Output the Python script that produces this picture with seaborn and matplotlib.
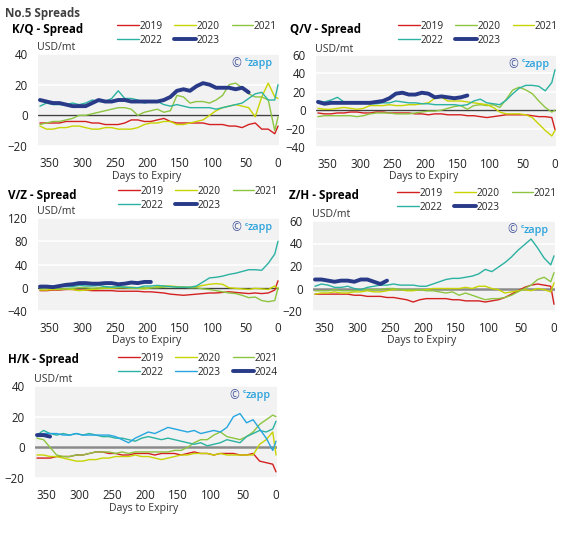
import numpy as np
import pandas as pd
import matplotlib
matplotlib.use('Agg')
import matplotlib.pyplot as plt
import seaborn as sns

# jours avant expiration (pas de 10 jours)
DAYS = [365, 355, 345, 335, 325, 315, 305, 295, 285, 275,
        265, 255, 245, 235, 225, 215, 205, 195, 185, 175,
        165, 155, 145, 135, 125, 115, 105, 95, 85, 75,
        65, 55, 45, 35, 25, 15, 5, 0]

# K/Q
KQ_2019 = [-5, -5, -5, -5, -4, -4, -4, -4, -5, -5, -6, -6, -6, -5, -3, -3, -4, -4, -3, -2,
           -4, -5, -5, -5, -5, -5, -6, -6, -6, -7, -7, -8, -6, -5, -9, -9, -12, -7]
KQ_2020 = [-7, -9, -9, -8, -8, -7, -7, -8, -9, -9, -8, -8, -9, -9, -9, -8, -6, -5, -5, -4,
           -4, -6, -6, -5, -4, -3, 0, 3, 5, 6, 7, 6, 5, -1, 12, 21, 12, 11]
KQ_2021 = [-6, -5, -4, -4, -3, -2, 0, 0, 1, 2, 3, 4, 5, 5, 4, 0, 2, 3, 4, 2,
           3, 13, 12, 8, 9, 9, 8, 10, 13, 20, 21, 18, 14, 12, 12, 10, -10, -1]
KQ_2022 = [6, 8, 7, 7, 7, 8, 7, 8, 10, 9, 9, 11, 16, 11, 11, 10, 8, 9, 9, 7,
           6, 7, 6, 5, 5, 5, 5, 4, 5, 6, 7, 8, 11, 14, 15, 10, 10, 20]
KQ_2023 = [10, 9, 8, 8, 7, 6, 6, 6, 8, 10, 9, 9, 10, 10, 9, 9, 9, 9, 9, 10,
           12, 16, 17, 16, 19, 21, 20, 18, 18, 18, 17, 18, 15]

# Q/V
QV_2019 = [-3, -4, -4, -3, -3, -2, -2, -3, -3, -2, -2, -3, -3, -3, -3, -4, -4, -5, -4, -4,
           -5, -5, -5, -6, -6, -7, -8, -7, -6, -5, -5, -5, -5, -6, -7, -7, -8, -21]
QV_2020 = [-7, -6, -6, -6, -6, -6, -7, -6, -4, -3, -3, -3, -4, -4, -4, -3, -2, -1, -1, 0,
           2, 4, 5, 1, 5, 6, 5, 6, 3, 12, 22, 25, 22, 18, 10, 3, -2, 0]
QV_2021 = [2, 1, 1, 2, 3, 2, 1, 2, 5, 5, 5, 6, 5, 5, 6, 6, 7, 8, 13, 14,
           10, 10, 10, 9, 8, 7, 6, 3, -2, -4, -4, -4, -5, -8, -15, -22, -28, -22]
QV_2022 = [10, 9, 11, 14, 9, 9, 8, 8, 7, 7, 8, 8, 10, 9, 8, 8, 7, 7, 6, 6,
           6, 6, 5, 6, 10, 12, 8, 7, 6, 11, 18, 24, 27, 27, 26, 21, 30, 44]
QV_2023 = [9, 7, 8, 8, 8, 8, 8, 8, 8, 9, 10, 13, 18, 19, 17, 17, 19, 18, 14, 15,
           14, 13, 14, 16]

# V/Z
VZ_2019 = [-5, -5, -4, -4, -3, -3, -4, -4, -5, -5, -5, -5, -6, -6, -6, -6, -7, -7, -8, -9,
           -11, -12, -13, -12, -11, -10, -9, -9, -8, -7, -8, -9, -10, -9, -10, -9, -4, 12]
VZ_2020 = [-4, -4, -3, -3, -2, -3, -5, -4, -3, -2, -1, -1, 0, 0, -1, -1, -2, 0, 2, 3,
           3, 2, 1, 1, 2, 4, 6, 7, 6, 0, -1, -2, -3, -1, -2, -3, 3, -2]
VZ_2021 = [-2, -1, -1, -2, -2, -1, 0, 0, -1, 0, 0, 1, 2, 1, 1, 0, 0, 0, 0, 1,
           2, 1, 1, 0, 0, -2, -3, -5, -7, -9, -10, -13, -17, -16, -22, -24, -22, 0]
VZ_2022 = [2, 2, 3, 3, 2, 2, 4, 3, 3, 4, 2, 1, 2, 1, 0, 0, 3, 3, 4, 3,
           2, 1, 1, 1, 3, 10, 17, 18, 20, 23, 25, 28, 31, 31, 30, 42, 58, 80]
VZ_2023 = [2, 2, 1, 3, 5, 6, 8, 8, 7, 7, 8, 8, 6, 7, 9, 8, 10, 10]

# Z/H
ZH_2019 = [-5, -5, -5, -5, -5, -5, -6, -6, -7, -7, -7, -8, -8, -9, -10, -12, -10, -9, -9, -9,
           -9, -10, -10, -11, -11, -11, -12, -11, -10, -8, -5, -2, 1, 3, 4, 3, 2, -14]
ZH_2020 = [-5, -4, -4, -3, -4, -4, -3, -3, -2, -3, -3, -2, -1, -1, -2, -2, -1, -1, 0, 0,
           0, 0, 0, 1, 0, 2, 2, 0, -1, -4, -3, -2, -1, -2, 0, -1, -3, 5]
ZH_2021 = [-2, -2, -2, -1, -2, -2, -2, -1, -1, -1, -1, 0, 0, -1, -1, -1, -1, -2, -2, -3,
           -4, -3, -6, -4, -6, -8, -10, -9, -9, -8, -6, -3, 0, 3, 8, 10, 6, 14]
ZH_2022 = [2, 4, 3, 1, 1, 2, 0, -1, 1, 2, 3, 3, 4, 3, 3, 3, 2, 2, 4, 6,
           8, 9, 9, 10, 11, 13, 17, 15, 19, 23, 28, 34, 39, 44, 36, 27, 21, 29]
ZH_2023 = [8, 8, 7, 6, 7, 7, 6, 8, 8, 6, 4, 7]

# H/K
HK_2019 = [-7, -7, -7, -6, -6, -6, -5, -5, -4, -3, -3, -4, -4, -5, -5, -4, -4, -4, -5, -4,
           -4, -4, -5, -4, -3, -4, -4, -5, -4, -4, -4, -5, -5, -4, -9, -10, -11, -16]
HK_2020 = [-5, -5, -6, -6, -7, -8, -9, -9, -8, -8, -7, -7, -6, -6, -6, -5, -6, -6, -7, -8,
           -7, -6, -5, -5, -4, -4, -4, -5, -4, -5, -5, -5, -5, -5, 2, 5, 10, -5]
HK_2021 = [6, 5, 0, -5, -6, -6, -5, -5, -4, -3, -3, -3, -4, -3, -4, -3, -3, -3, -3, -3,
           -3, -2, -2, 0, 3, 5, 5, 8, 10, 7, 6, 5, 7, 10, 15, 18, 21, 20]
HK_2022 = [8, 11, 9, 8, 9, 8, 9, 8, 9, 8, 7, 7, 6, 6, 5, 4, 6, 7, 6, 5,
           6, 5, 4, 3, 2, 3, 1, 2, 3, 5, 4, 3, 7, 9, 11, 10, 12, 17]
HK_2023 = [7, 9, 9, 9, 8, 8, 9, 8, 8, 8, 8, 8, 7, 5, 3, 6, 8, 10, 9, 11,
           13, 12, 11, 10, 11, 9, 10, 11, 10, 13, 20, 22, 16, 18, 12, 6, -2, 4]
HK_2024 = [8, 8, 7]

RED = '#d42020'
YEL = '#c8d400'
GRN = '#8dc540'
TEAL = '#2bb2a2'
NAVY = '#283a88'
BLUE = '#25a6e0'

W, H = 582, 551


def fx(x):
    return x / W


def fy(y):
    return 1 - y / H


# (titre, séries, ylim, yticks, rect px (g, h, d, b), zéro, légende px, titre px)
panneaux = [
    ('K/Q - Spread',
     [('2019', KQ_2019, RED, 1.0), ('2020', KQ_2020, YEL, 1.0), ('2021', KQ_2021, GRN, 1.0),
      ('2022', KQ_2022, TEAL, 1.0), ('2023', KQ_2023, NAVY, 2.8)],
     (-20, 40), [-20, 0, 20, 40], (38, 54, 279, 146), ('#404040', 1.0), (277, 46), (12, 30)),
    ('Q/V - Spread',
     [('2019', QV_2019, RED, 1.0), ('2020', QV_2020, GRN, 1.0), ('2021', QV_2021, YEL, 1.0),
      ('2022', QV_2022, TEAL, 1.0), ('2023', QV_2023, NAVY, 2.8)],
     (-40, 60), [-40, -20, 0, 20, 40, 60], (316, 55, 556, 147), ('#404040', 1.0), (558, 46), (290, 30)),
    ('V/Z - Spread',
     [('2019', VZ_2019, RED, 1.0), ('2020', VZ_2020, YEL, 1.0), ('2021', VZ_2021, GRN, 1.0),
      ('2022', VZ_2022, TEAL, 1.0), ('2023', VZ_2023, NAVY, 2.8)],
     (-40, 120), [-40, 0, 40, 80, 120], (38, 218, 279, 311), ('#404040', 1.0), (278, 211), (8, 195)),
    ('Z/H - Spread',
     [('2019', ZH_2019, RED, 1.0), ('2020', ZH_2020, YEL, 1.0), ('2021', ZH_2021, GRN, 1.0),
      ('2022', ZH_2022, TEAL, 1.0), ('2023', ZH_2023, NAVY, 2.8)],
     (-20, 60), [-20, 0, 20, 40, 60], (313, 221, 555, 311), ('#8a8a8a', 1.8), (557, 213), (289, 195)),
    ('H/K - Spread',
     [('2019', HK_2019, RED, 1.0), ('2020', HK_2020, YEL, 1.0), ('2021', HK_2021, GRN, 1.0),
      ('2022', HK_2022, TEAL, 1.0), ('2023', HK_2023, BLUE, 1.0), ('2024', HK_2024, NAVY, 2.8)],
     (-20, 40), [-20, 0, 20, 40], (35, 386, 277, 478), ('#8a8a8a', 1.8), (278, 378), (8, 360)),
]

sns.set_theme(style='white')
plt.rcParams['font.family'] = ['Open Sans', 'DejaVu Sans']

fig = plt.figure(figsize=(W / 100, H / 100), dpi=100)
fig.text(fx(5), fy(13), 'No.5 Spreads', fontsize=8.4, fontweight='bold', color='#404040', va='center')

for titre, series, ylim, yticks, (g, h, d, b), (zc, zw), (lx, ly), (tx, ty) in panneaux:
    ax = fig.add_axes([fx(g), fy(b), (d - g) / W, (b - h) / H])
    ax.set_facecolor('#f2f2f2')
    for s in ax.spines.values():
        s.set_visible(False)

    for annee, vals, couleur, lw in series:
        df = pd.DataFrame({'jours': DAYS[:len(vals)], 'valeur': vals})
        sns.lineplot(data=df, x='jours', y='valeur', ax=ax, color=couleur, lw=lw, label=annee, zorder=3)

    ax.axhline(0, color=zc, lw=zw, zorder=2)
    ax.set_xlim(368, -1.5)
    ax.set_ylim(*ylim)
    ax.set_yticks(yticks)
    ax.set_xticks([350, 300, 250, 200, 150, 100, 50, 0])
    ax.yaxis.grid(True, color='white', lw=1.2)
    ax.set_axisbelow(True)
    ax.tick_params(axis='both', length=0, labelsize=8.3, colors='#222222')
    ax.tick_params(axis='y', pad=7.5)
    ax.tick_params(axis='x', pad=8)
    ax.set_ylabel('')
    ax.set_xlabel('Days to Expiry', fontsize=7.6, color='#333333')
    ax.xaxis.set_label_coords(0.45, -(30 / (b - h)))
    ax.xaxis.label.set_va('center')

    # légende remplie ligne par ligne
    handles, labels = ax.get_legend_handles_labels()
    ordre = [0, 3, 1, 4, 2] if len(handles) == 5 else [0, 3, 1, 4, 2, 5]
    ax.legend([handles[i] for i in ordre], [labels[i] for i in ordre], ncol=3,
              loc='lower right', bbox_to_anchor=(fx(lx), fy(ly)), bbox_transform=fig.transFigure,
              frameon=False, fontsize=7.3, handlelength=2.1, handletextpad=0.1,
              columnspacing=1.15, labelspacing=0.3, borderpad=0, borderaxespad=0)

    fig.text(fx(tx), fy(ty), titre, fontsize=8.4, fontweight='bold', color='black', va='center')
    fig.text(fx(g - 1), fy(h - 6), 'USD/mt', fontsize=7.6, color='#333333', va='center')

    # filigrane
    t = ax.text(0.975, 0.9, 'zapp', transform=ax.transAxes, ha='right', va='center',
                fontsize=7.8, fontweight='semibold', color='#2ea3dc')
    ax.annotate('c', xy=(0, 0.8), xycoords=t, ha='right', va='center',
                fontsize=4.5, fontweight='bold', color='#2ea3dc')
    ax.annotate('©', xy=(0, 0.5), xycoords=t, xytext=(-5, 0), textcoords='offset points',
                ha='right', va='center', fontsize=8.5, color='#4a5a9e')

fig.savefig('out.png', dpi=100, facecolor='white')
